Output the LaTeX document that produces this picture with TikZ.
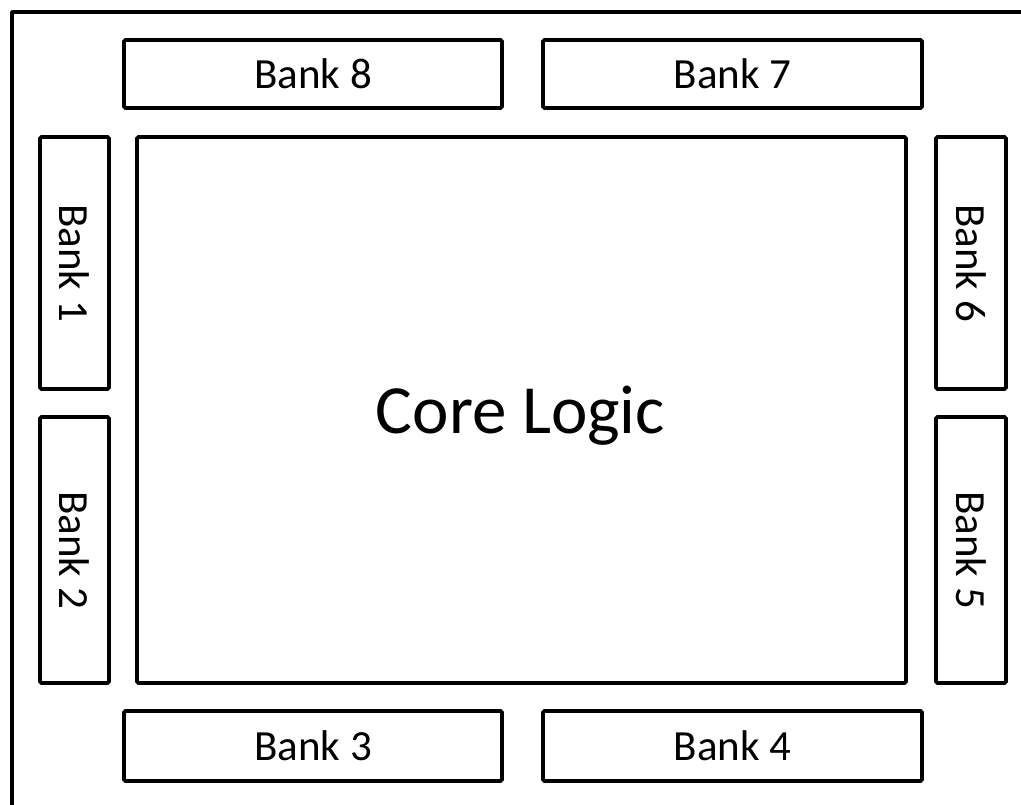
\documentclass[tikz,border=0pt]{standalone}
\usepackage{fontspec}
\setmainfont{Carlito}
\begin{document}
\begin{tikzpicture}[x=1pt,y=-1pt,
  box/.style={draw=black,line width=3.8pt,rounded corners=1.5pt,inner sep=0pt,font=\fontsize{43}{50}\selectfont},
  corebox/.style={box,font=\fontsize{69}{80}\selectfont}]
\useasboundingbox (0,0) rectangle (1021,805);
\coordinate (tr) at (1021,12);
\coordinate (tl) at (12,12);
\coordinate (bl) at (12,805);
\draw[line width=3.8pt,line join=round] (tr) -- (tl) -- (bl);
\node[box,minimum width=378pt,minimum height=68pt] (b8) at (313,74) {Bank 8};
\node[box,minimum width=379pt,minimum height=68pt] (b7) at (732.5,74) {Bank 7};
\node[box,minimum width=378pt,minimum height=70pt] (b3) at (313,746) {Bank 3};
\node[box,minimum width=379pt,minimum height=70pt] (b4) at (732.5,746) {Bank 4};
\node[box,minimum width=69pt,minimum height=252pt] (b1) at (74.5,263) {\rotatebox{-90}{Bank 1}};
\node[box,minimum width=69pt,minimum height=266pt] (b2) at (74.5,550) {\rotatebox{-90}{Bank 2}};
\node[box,minimum width=70pt,minimum height=252pt] (b6) at (971,263) {\rotatebox{-90}{Bank 6}};
\node[box,minimum width=70pt,minimum height=266pt] (b5) at (971,550) {\rotatebox{-90}{Bank 5}};
\node[box,minimum width=769pt,minimum height=546pt] (core) at (521.5,410) {};
\node[font=\fontsize{69}{80}\selectfont,inner sep=0pt] (corelabel) at (520.5,416) {Core Logic};
\end{tikzpicture}
\end{document}
